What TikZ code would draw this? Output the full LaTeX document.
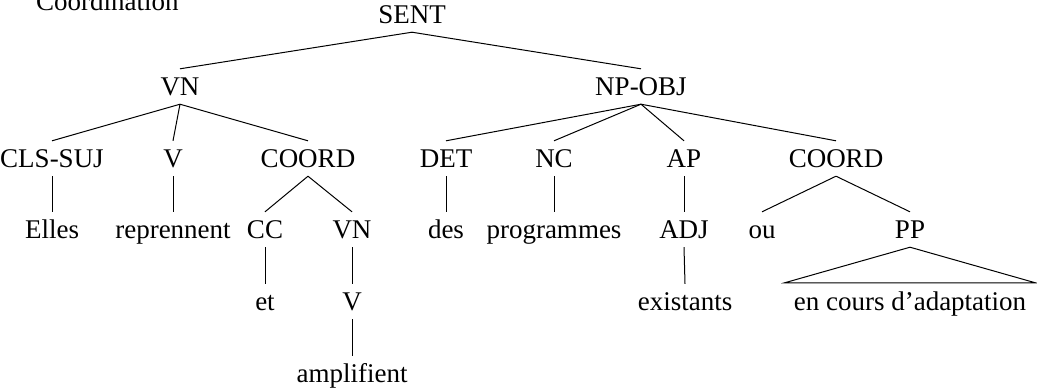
\documentclass[tikz,border=0pt]{standalone}
\usepackage{fontspec}
\setmainfont{Liberation Serif}
\usepackage{tikz}

\begin{document}
\begin{tikzpicture}[x=1bp, y=-1bp,
    cat/.style={anchor=base, inner xsep=0pt, inner ysep=9bp, text height=17bp, text depth=0pt,
        font=\fontsize{27bp}{31bp}\selectfont},
    word/.style={cat},
    phrase/.style={cat, inner xsep=9bp, inner ysep=10bp},
    edge/.style={line width=1bp, black}]
    \useasboundingbox (0,0) rectangle (1037,391);

    % Title
    \node[cat, anchor=base west] (title) at (36,10) {Coordination};

    % Level 0
    \node[cat] (sent) at (412,23) {SENT};

    % Level 1
    \node[cat] (vn) at (180,95) {VN};
    \node[cat] (npobj) at (641,95) {NP-OBJ};

    % Level 2
    \node[cat] (clssuj) at (52,167) {CLS-SUJ};
    \node[cat] (v) at (173,167) {V};
    \node[cat] (coordA) at (308,167) {COORD};
    \node[cat] (det) at (446,167) {DET};
    \node[cat] (nc) at (554,167) {NC};
    \node[cat] (ap) at (684,167) {AP};
    \node[cat] (coordB) at (836,167) {COORD};

    % Level 3
    \node[word] (elles) at (52,238) {Elles};
    \node[word] (reprennent) at (173,238) {reprennent};
    \node[cat] (cc) at (265,238) {CC};
    \node[cat] (vnB) at (352,238) {VN};
    \node[word] (des) at (446,238) {des};
    \node[word] (programmes) at (554,238) {programmes};
    \node[cat] (adj) at (684,238) {ADJ};
    \node[word] (ou) at (762,238) {ou};
    \node[cat] (pp) at (910,238) {PP};

    % Level 4
    \node[word] (et) at (265,310) {et};
    \node[cat] (vB) at (352,310) {V};
    \node[word] (existants) at (685,310) {existants};
    \node[phrase] (encours) at (910,310) {en cours d'adaptation};

    % Level 5
    \node[word] (amplifient) at (352,382) {amplifient};

    % Edges
    \draw[edge] (sent.south) -- (vn.north);
    \draw[edge] (sent.south) -- (npobj.north);
    \foreach \child in {clssuj, v, coordA}
        \draw[edge] (vn.south) -- (\child.north);
    \foreach \child in {det, nc, ap, coordB}
        \draw[edge] (npobj.south) -- (\child.north);
    \draw[edge] (clssuj.south) -- (elles.north);
    \draw[edge] (v.south) -- (reprennent.north);
    \draw[edge] (coordA.south) -- (cc.north);
    \draw[edge] (coordA.south) -- (vnB.north);
    \draw[edge] (det.south) -- (des.north);
    \draw[edge] (nc.south) -- (programmes.north);
    \draw[edge] (ap.south) -- (adj.north);
    \draw[edge] (coordB.south) -- (ou.north);
    \draw[edge] (coordB.south) -- (pp.north);
    \draw[edge] (cc.south) -- (et.north);
    \draw[edge] (vnB.south) -- (vB.north);
    \draw[edge] (adj.south) -- (existants.north);
    \draw[edge] (vB.south) -- (amplifient.north);

    % Roof
    \draw[edge] (pp.south) -- (encours.north west) -- (encours.north east) -- cycle;
\end{tikzpicture}
\end{document}
